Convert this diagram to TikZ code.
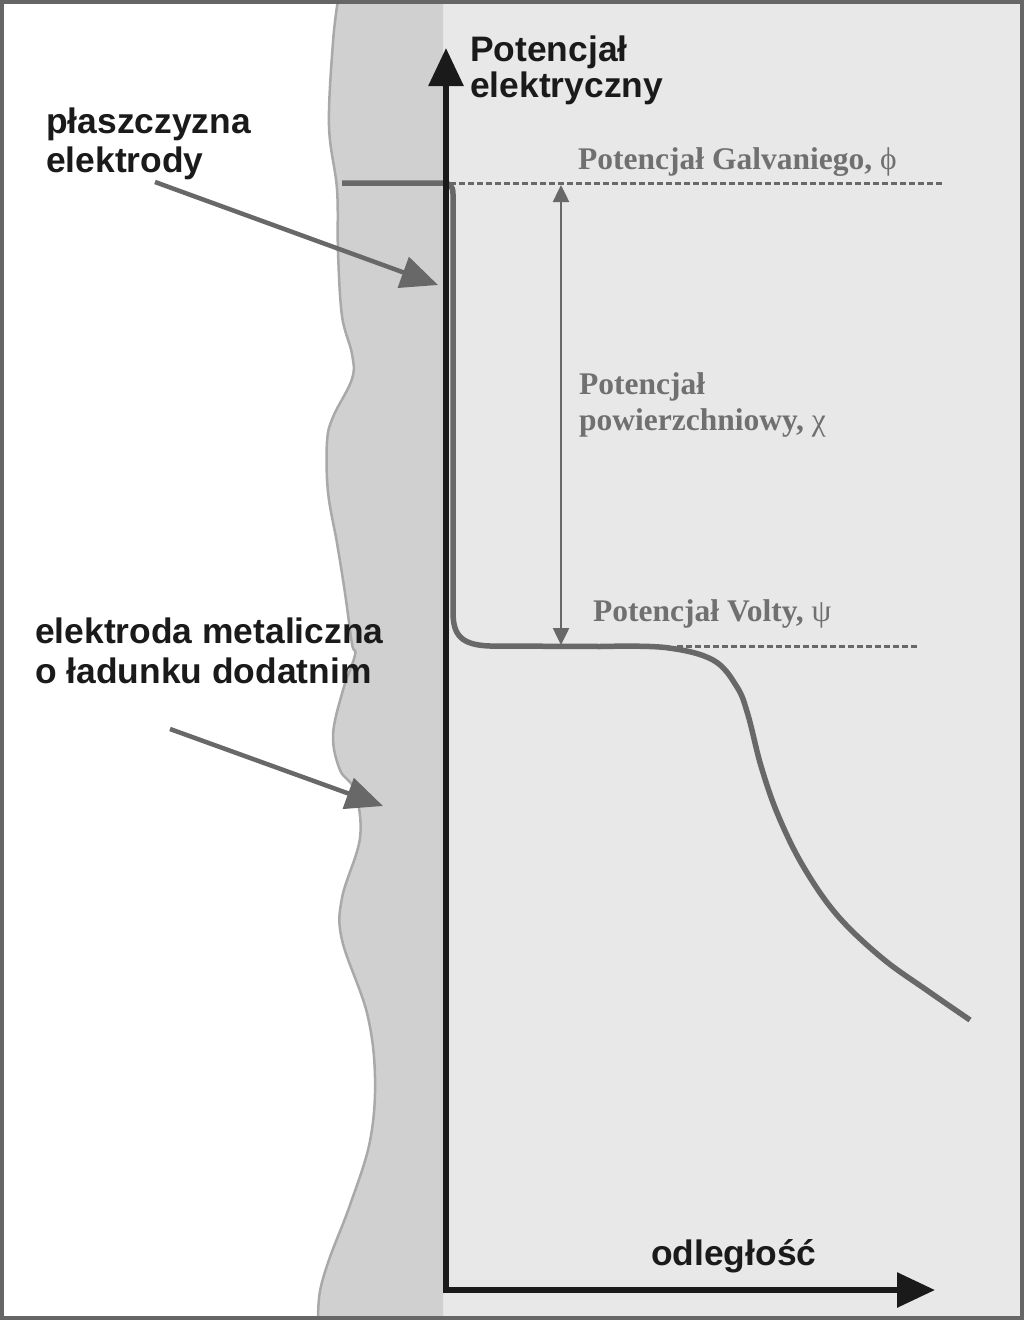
\documentclass[tikz,border=0pt]{standalone}
\usepackage{fontspec}
\setmainfont{Liberation Serif}
\setsansfont{Liberation Sans}
\usetikzlibrary{arrows.meta}
\definecolor{framec}{HTML}{666666}
\definecolor{bandc}{HTML}{D0D0D0}
\definecolor{bandedge}{HTML}{A9A9A9}
\definecolor{rightc}{HTML}{E8E8E8}
\definecolor{axisc}{HTML}{1A1A1A}
\definecolor{curvec}{HTML}{686868}
\definecolor{greytext}{HTML}{707070}
\tikzset{
  blk/.style={inner sep=0pt, anchor=base west, align=left, text=axisc,
    font=\sffamily\bfseries\fontsize{35.4}{38}\selectfont},
  gry/.style={inner sep=0pt, anchor=base west, align=left, text=greytext,
    font=\rmfamily\bfseries\fontsize{31.5}{36}\selectfont},
  axisline/.style={draw=axisc, line width=6pt, -{Triangle[length=38pt,width=34pt]}},
  pointer/.style={draw=curvec, line width=4.5pt, -{Triangle[length=37pt,width=32pt]}},
  curveline/.style={draw=curvec, line width=5.5pt},
  guide/.style={draw=curvec, line width=3pt, dash pattern=on 6pt off 3pt},
  span/.style={draw=curvec, line width=2.5pt, {Triangle[length=17pt,width=16pt]}-{Triangle[length=17pt,width=16pt]}}
}
\newcommand{\grk}[1]{{\mdseries #1}}
\begin{document}
\begin{tikzpicture}[x=1pt,y=-1pt]
\useasboundingbox (0,0) rectangle (1024,1320);
\fill[white] (0,0) rectangle (1024,1320);
\fill[rightc] (443,0) rectangle (1024,1320);
% electrode band
\fill[bandc] (443,0) -- (338,0) -- plot[smooth, tension=0.6] coordinates {
 (338,4) (333,42) (329,126) (337,189) (338,252) (342,316) (352,354) (352,379)
 (333,417) (327,442) (328,492) (337,543) (345,593) (352,644) (355,655) (343,690)
 (333,735) (340,770) (355,791) (360,838) (342,898) (342,940) (367,1013) (375,1077)
 (370,1141) (350,1205) (330,1257) (320,1291) (318,1316)} -- (318,1320) -- (443,1320) -- cycle;
\draw[bandedge, line width=2.5pt] plot[smooth, tension=0.6] coordinates {
 (338,0) (333,42) (329,126) (337,189) (338,252) (342,316) (352,354) (352,379)
 (333,417) (327,442) (328,492) (337,543) (345,593) (352,644) (355,655) (343,690)
 (333,735) (340,770) (355,791) (360,838) (342,898) (342,940) (367,1013) (375,1077)
 (370,1141) (350,1205) (330,1257) (320,1291) (318,1320)};
% guides
\coordinate (g1) at (450,183);
\coordinate (g2) at (942,183);
\coordinate (v1) at (677,646);
\coordinate (v2) at (917,646);
\draw[guide] (g1) -- (g2);
\draw[guide] (v1) -- (v2);
% potential curve
\coordinate (cstart) at (342,183);
\draw[curveline, line join=round] (cstart) -- (443,183) .. controls (450,183) and (453,186) .. (453,194)
  -- (453,612) .. controls (453,636) and (462,645) .. (490,646)
  -- (600,646.5) -- plot[smooth, tension=0.6] coordinates {
  (600,646.5) (665,647.5) (713,660) (737,687) (748,715) (761,766) (778,815)
  (803,866) (837,915) (882,958) (928,991) (970,1020)};
% axes
\coordinate (o) at (446,1290);
\coordinate (ytip) at (446,48);
\coordinate (xtip) at (935,1290);
\draw[axisline] (o) -- (ytip);
\draw[axisline] ([xshift=-3pt]o) -- (xtip);
% span arrow
\coordinate (s1) at (561,185);
\coordinate (s2) at (561,645);
\draw[span] (s1) -- (s2);
% labels (base anchor = last line)
\node[blk] (ylab) at (470,97) {Potencjał\\[-2pt]elektryczny};
\node[blk] (xlab) at (651,1265) {odległość};
\node[blk] (plane) at (46,172) {płaszczyzna\\[1pt]elektrody};
\node[blk] (metal) at (35,683) {elektroda metaliczna\\[2pt]o ładunku dodatnim};
\node[gry] (galv) at (578,169) {Potencjał Galvaniego, \grk{ϕ}};
\node[gry] (surf) at (579,430) {Potencjał\\powierzchniowy, \grk{χ}};
\node[gry] (volt) at (593,621) {Potencjał Volty, \grk{ψ}};
% pointers
\coordinate (p1s) at (155,182);
\coordinate (p1e) at (438,285);
\coordinate (p2s) at (170,729);
\coordinate (p2e) at (383,806);
\draw[pointer] (p1s) -- (p1e);
\draw[pointer] (p2s) -- (p2e);
% frame
\draw[framec, line width=4pt] (2,2) rectangle (1022,1318);
\end{tikzpicture}
\end{document}
